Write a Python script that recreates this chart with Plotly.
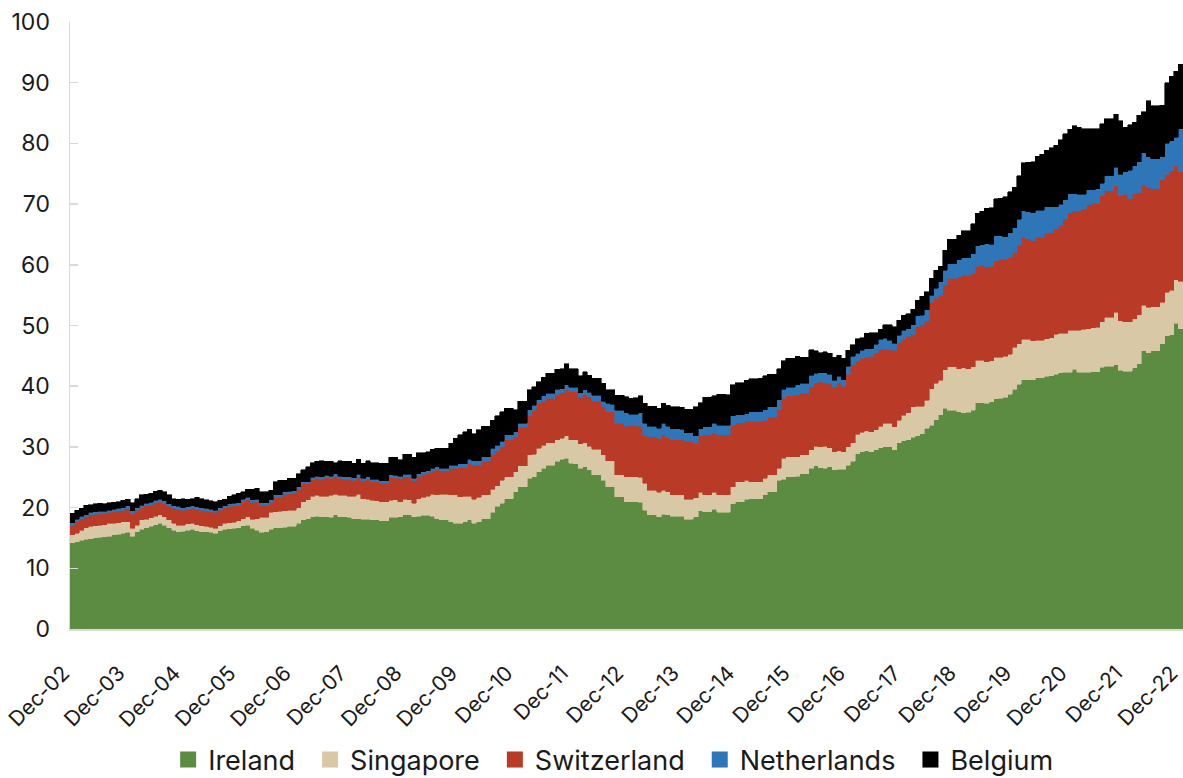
import plotly.graph_objects as go
import pandas as pd

# Monthly categories Dec-02 .. Dec-22
months = pd.date_range("2002-12-01", "2022-12-01", freq="MS").strftime("%b-%y").tolist()
tick_labels = ["Dec-%02d" % y for y in range(2, 23)]
y_ticks = [0, 10, 20, 30, 40, 50, 60, 70, 80, 90, 100]

ireland = [
    14.2, 14.4, 14.6, 14.8, 14.9, 15.0, 15.1, 15.2, 15.3, 15.5, 15.6, 15.8, 15.9,
    15.3, 16.0, 16.4, 16.7, 16.9, 17.2, 17.4, 17.1, 16.7, 16.3, 16.0, 16.1,
    16.3, 16.4, 16.2, 16.0, 16.0, 15.9, 15.8, 16.2, 16.4, 16.5, 16.6, 16.7,
    17.0, 17.1, 16.6, 16.3, 15.9, 16.0, 16.4, 16.7, 16.7, 16.8, 16.9, 16.9,
    17.4, 18.0, 18.2, 18.5, 18.6, 18.5, 18.5, 18.4, 18.8, 18.5, 18.5, 18.4,
    18.2, 18.2, 18.1, 18.1, 18.0, 18.0, 17.8, 17.8, 18.4, 18.4, 18.5, 18.8,
    18.8, 18.5, 18.6, 18.7, 18.7, 18.6, 18.2, 18.0, 18.0, 17.7, 17.4, 17.4,
    17.7, 18.0, 17.4, 17.7, 18.2, 18.2, 19.2, 20.2, 20.7, 21.5, 21.5, 22.6,
    23.4, 23.4, 24.8, 25.1, 25.9, 26.5, 27.0, 27.0, 27.6, 28.0, 28.1, 27.3,
    27.2, 26.5, 26.7, 26.2, 25.4, 25.4, 24.5, 23.4, 23.4, 21.8, 21.8, 21.0,
    21.0, 21.0, 20.9, 19.6, 18.8, 18.8, 18.5, 18.9, 18.8, 18.6, 18.6, 18.6,
    18.1, 18.1, 18.5, 19.5, 19.3, 19.3, 19.7, 19.2, 19.2, 19.2, 20.6, 21.0,
    21.0, 21.4, 21.5, 21.5, 21.5, 22.1, 22.6, 22.6, 24.5, 24.7, 25.1, 25.1,
    25.2, 25.6, 25.6, 26.5, 26.9, 26.6, 26.5, 26.7, 26.2, 26.3, 26.3, 27.0,
    27.6, 28.9, 29.2, 29.4, 29.2, 29.5, 29.9, 30.0, 30.0, 29.5, 30.7, 31.0,
    31.2, 31.6, 31.8, 32.2, 33.1, 33.6, 34.5, 35.3, 36.4, 36.0, 36.0, 35.8,
    35.6, 35.7, 36.0, 37.3, 37.3, 37.2, 37.4, 37.9, 38.0, 38.2, 38.7, 39.5,
    40.3, 41.1, 41.1, 41.1, 41.4, 41.4, 41.6, 41.7, 42.0, 42.2, 42.3, 42.3,
    42.8, 42.3, 42.3, 42.3, 42.4, 42.4, 43.1, 43.3, 43.3, 43.5, 42.6, 42.5,
    42.5, 43.0, 43.7, 45.8, 45.5, 45.8, 45.8, 47.0, 48.3, 48.5, 50.4, 49.5,
]

singapore = [
    1.3, 1.4, 1.7, 1.9, 2.0, 2.0, 2.0, 2.0, 2.1, 1.9, 1.9, 1.9, 1.8,
    1.3, 1.1, 1.6, 1.4, 1.4, 1.4, 1.4, 1.4, 1.3, 1.1, 1.1, 1.0,
    1.0, 1.0, 1.0, 1.0, 0.9, 0.9, 0.8, 0.8, 1.0, 1.0, 1.0, 1.1,
    1.2, 1.4, 1.5, 1.9, 2.5, 2.4, 2.8, 2.6, 2.7, 2.7, 2.7, 2.7,
    2.6, 3.0, 3.1, 3.4, 3.4, 3.4, 3.4, 3.6, 3.4, 3.5, 3.5, 3.5,
    3.7, 4.0, 3.4, 3.3, 3.2, 3.1, 3.2, 3.2, 2.8, 2.9, 2.5, 2.6,
    2.5, 2.2, 2.9, 3.0, 3.2, 3.6, 3.9, 4.2, 4.2, 4.4, 4.7, 4.4,
    4.2, 3.9, 4.0, 4.0, 3.9, 3.9, 3.8, 3.4, 3.8, 3.6, 3.6, 3.3,
    3.5, 3.5, 3.9, 3.7, 3.9, 3.8, 3.7, 3.7, 3.6, 3.4, 3.7, 3.9,
    4.0, 4.0, 4.0, 3.9, 4.2, 4.2, 4.2, 4.3, 4.3, 3.6, 3.6, 4.1,
    4.1, 4.1, 4.1, 4.4, 4.1, 4.1, 4.0, 4.0, 3.8, 3.5, 3.5, 3.5,
    3.3, 3.3, 3.1, 3.0, 2.8, 2.8, 2.8, 2.9, 2.9, 2.9, 2.8, 3.3,
    3.3, 3.1, 2.8, 2.8, 2.8, 2.7, 2.8, 2.8, 2.0, 3.4, 3.3, 3.3,
    3.2, 3.1, 3.1, 3.0, 3.2, 3.4, 3.6, 3.2, 3.0, 3.1, 2.9, 3.0,
    3.1, 3.2, 3.2, 3.3, 3.3, 3.3, 3.5, 3.9, 3.9, 3.8, 3.7, 4.2,
    4.4, 5.0, 4.9, 4.5, 4.6, 6.0, 6.0, 5.7, 6.3, 7.2, 7.2, 7.1,
    7.4, 7.2, 7.2, 7.0, 7.0, 6.8, 6.8, 6.9, 6.8, 6.7, 6.6, 6.9,
    6.7, 6.6, 6.6, 6.4, 6.2, 6.2, 6.2, 6.3, 6.6, 6.5, 6.4, 6.9,
    6.4, 6.9, 7.1, 7.2, 7.2, 7.3, 7.5, 8.1, 8.1, 8.7, 8.2, 8.1,
    8.1, 8.1, 8.1, 7.5, 7.5, 7.3, 7.3, 6.8, 7.2, 7.3, 7.1, 7.8,
]

switzerland = [
    1.6, 1.9, 1.9, 1.8, 1.9, 1.9, 1.9, 1.9, 1.8, 1.9, 2.0, 1.9, 2.2,
    2.4, 2.5, 2.0, 2.2, 2.2, 2.2, 2.2, 2.2, 2.2, 2.5, 2.6, 2.5,
    2.4, 2.5, 2.5, 2.6, 2.6, 2.5, 2.6, 2.6, 2.6, 2.7, 2.7, 2.6,
    2.8, 2.8, 2.8, 2.8, 2.0, 2.0, 1.7, 2.4, 2.3, 2.7, 2.7, 2.8,
    3.0, 2.9, 2.6, 2.7, 2.8, 2.8, 3.0, 2.8, 3.0, 2.8, 2.7, 2.8,
    2.6, 2.9, 2.9, 3.3, 3.1, 3.2, 3.0, 3.0, 3.8, 3.6, 3.8, 3.7,
    3.8, 3.7, 3.7, 3.8, 3.8, 3.9, 4.2, 3.9, 3.9, 4.4, 4.4, 4.8,
    4.7, 5.3, 5.6, 5.3, 5.5, 5.5, 5.8, 5.8, 5.5, 6.1, 6.1, 5.8,
    6.3, 6.3, 6.4, 7.2, 7.3, 7.2, 7.3, 7.3, 7.5, 7.5, 7.6, 7.9,
    7.9, 7.7, 8.0, 8.2, 7.9, 7.9, 7.9, 8.1, 8.1, 8.5, 8.5, 8.3,
    8.5, 8.5, 8.4, 7.8, 8.8, 8.8, 8.9, 9.1, 8.9, 9.1, 9.1, 9.1,
    9.5, 9.5, 9.0, 9.3, 9.9, 9.9, 9.8, 9.9, 9.9, 9.9, 10.2, 9.7,
    9.7, 9.8, 9.9, 9.9, 9.9, 9.6, 9.5, 9.5, 9.6, 9.9, 10.0, 10.0,
    10.2, 10.1, 10.1, 10.4, 10.5, 10.7, 10.5, 10.6, 10.7, 11.2, 10.8, 12.0,
    12.8, 12.0, 12.2, 12.1, 12.4, 12.6, 12.8, 12.2, 12.2, 12.6, 12.8, 12.5,
    12.6, 12.0, 13.1, 13.4, 13.1, 14.2, 14.0, 14.0, 14.0, 14.6, 14.6, 15.1,
    15.3, 15.4, 15.4, 15.5, 15.7, 15.7, 15.6, 15.9, 16.1, 16.0, 15.9, 15.7,
    16.2, 16.9, 16.6, 16.5, 16.9, 16.9, 17.4, 17.3, 17.3, 17.8, 18.9, 19.4,
    19.7, 19.7, 19.8, 20.4, 20.5, 20.4, 20.8, 20.8, 20.8, 20.8, 20.6, 21.0,
    20.3, 20.6, 20.1, 19.8, 19.8, 19.4, 19.4, 20.2, 19.4, 19.7, 18.8, 18.0,
]

netherlands = [
    0.4, 0.4, 0.4, 0.3, 0.4, 0.4, 0.4, 0.3, 0.4, 0.4, 0.4, 0.4, 0.4,
    0.5, 0.4, 0.4, 0.4, 0.4, 0.4, 0.4, 0.4, 0.4, 0.4, 0.5, 0.4,
    0.4, 0.4, 0.4, 0.4, 0.4, 0.4, 0.4, 0.4, 0.3, 0.4, 0.4, 0.4,
    0.4, 0.4, 0.4, 0.4, 0.4, 0.4, 0.4, 0.4, 0.4, 0.4, 0.4, 0.4,
    0.4, 0.4, 0.4, 0.4, 0.4, 0.4, 0.4, 0.4, 0.4, 0.4, 0.4, 0.4,
    0.4, 0.4, 0.4, 0.4, 0.4, 0.4, 0.4, 0.4, 0.4, 0.4, 0.4, 0.4,
    0.4, 0.4, 0.4, 0.4, 0.4, 0.4, 0.4, 0.4, 0.4, 0.5, 0.5, 0.6,
    0.6, 0.8, 0.7, 0.7, 0.8, 0.8, 1.0, 0.9, 0.9, 0.8, 0.8, 0.8,
    0.7, 0.7, 1.0, 0.9, 0.7, 0.9, 0.8, 0.8, 0.8, 0.7, 0.8, 0.7,
    0.7, 0.7, 0.7, 0.7, 1.0, 1.0, 0.9, 1.4, 1.2, 2.1, 2.1, 2.2,
    1.8, 1.8, 2.2, 2.1, 1.7, 1.7, 1.7, 1.9, 1.9, 1.8, 1.8, 1.7,
    1.4, 1.4, 1.2, 1.2, 1.3, 1.3, 1.6, 1.6, 1.6, 1.6, 1.5, 1.3,
    1.3, 1.2, 1.6, 1.6, 1.6, 1.7, 1.7, 1.7, 1.7, 1.5, 1.4, 1.4,
    1.6, 1.7, 1.7, 1.9, 1.5, 1.5, 1.6, 1.5, 1.1, 1.0, 1.1, 1.3,
    1.4, 1.3, 1.3, 1.4, 1.3, 1.5, 1.5, 1.8, 1.5, 1.2, 1.2, 1.5,
    1.3, 1.5, 1.8, 1.6, 1.8, 1.2, 1.6, 2.2, 2.4, 2.4, 2.4, 2.8,
    2.9, 2.9, 3.2, 3.3, 3.3, 3.8, 3.6, 4.1, 3.9, 3.7, 4.1, 4.0,
    4.3, 4.3, 4.4, 4.6, 4.5, 4.5, 4.4, 4.3, 3.7, 3.5, 3.1, 3.1,
    2.8, 2.7, 2.4, 2.5, 2.3, 2.4, 2.0, 2.5, 2.5, 3.1, 3.5, 3.7,
    4.7, 4.6, 5.1, 5.4, 5.0, 5.0, 5.0, 3.8, 5.1, 4.9, 4.7, 7.1,
]

belgium = [
    1.6, 1.5, 1.3, 1.6, 1.3, 1.3, 1.3, 1.2, 1.2, 1.2, 1.1, 1.2, 1.1,
    1.3, 1.5, 1.7, 1.5, 1.5, 1.5, 1.5, 1.5, 1.5, 1.2, 1.2, 1.5,
    1.3, 1.2, 1.6, 1.5, 1.4, 1.4, 1.4, 1.2, 1.1, 1.3, 1.4, 1.6,
    1.2, 1.3, 1.7, 1.8, 1.8, 1.8, 1.6, 2.2, 2.4, 1.9, 2.1, 2.0,
    2.2, 1.9, 2.4, 2.4, 2.4, 2.6, 2.3, 2.4, 1.8, 2.5, 2.5, 2.5,
    2.4, 2.5, 2.5, 2.6, 2.7, 2.7, 2.9, 2.9, 2.9, 3.0, 2.7, 3.3,
    3.3, 3.5, 3.4, 3.1, 3.1, 3.1, 3.1, 3.3, 3.3, 3.6, 4.4, 4.8,
    5.3, 4.9, 4.5, 5.1, 5.0, 5.0, 4.6, 4.8, 4.9, 4.4, 4.4, 3.6,
    3.6, 3.6, 3.3, 3.0, 2.9, 3.1, 3.3, 3.3, 3.3, 3.3, 3.5, 3.1,
    3.1, 2.8, 3.0, 2.8, 2.8, 2.8, 3.0, 2.2, 2.4, 2.5, 2.5, 2.7,
    2.6, 2.7, 2.8, 3.3, 3.3, 3.3, 3.3, 3.3, 3.5, 3.6, 3.6, 3.6,
    3.9, 3.9, 4.8, 4.3, 4.9, 4.9, 4.5, 5.1, 5.1, 5.0, 5.1, 5.3,
    5.3, 5.5, 5.4, 5.4, 5.5, 5.6, 5.4, 5.4, 5.1, 4.7, 4.8, 4.8,
    4.7, 4.3, 4.3, 4.2, 3.7, 3.3, 3.5, 3.4, 3.8, 3.5, 3.5, 2.6,
    1.9, 2.4, 2.1, 2.5, 2.6, 1.9, 1.7, 2.2, 2.5, 2.7, 2.5, 2.5,
    2.4, 2.6, 2.6, 3.1, 3.0, 2.8, 3.0, 2.6, 3.3, 4.0, 4.0, 4.1,
    4.4, 4.4, 5.0, 5.4, 5.5, 5.8, 6.0, 6.1, 6.2, 6.6, 6.7, 6.7,
    7.2, 7.9, 8.2, 8.4, 8.9, 9.2, 9.3, 9.7, 10.1, 10.6, 10.9, 10.6,
    11.2, 11.1, 10.8, 10.0, 10.0, 9.9, 9.8, 9.4, 9.4, 8.7, 8.8, 7.4,
    7.5, 7.2, 7.6, 6.7, 9.2, 8.7, 8.7, 8.5, 10.0, 10.7, 10.9, 10.6,
]

series = [
    ("Ireland", ireland, "#5b8c42"),
    ("Singapore", singapore, "#d8c8a6"),
    ("Switzerland", switzerland, "#b93a26"),
    ("Netherlands", netherlands, "#2f76b8"),
    ("Belgium", belgium, "#000000"),
]

FONT = "Inter, 'Open Sans', Arial, sans-serif"
PAD = "\u00a0\u200a"

fig = go.Figure()
for name, vals, col in series:
    fig.add_bar(
        x=months, y=vals, name=name,
        marker=dict(color=col, line=dict(color=col, width=0.6)),
        showlegend=False, hoverinfo="skip",
    )
for k, (name, vals, col) in enumerate(series):
    label = name + (PAD if k < len(series) - 1 else "")
    fig.add_scatter(
        x=[None], y=[None], mode="markers", name=label,
        marker=dict(symbol="square", size=16, color=col),
        showlegend=True, hoverinfo="skip",
    )

fig.update_layout(
    width=1183, height=778,
    barmode="stack", bargap=0,
    paper_bgcolor="white", plot_bgcolor="white",
    margin=dict(l=70, r=0, t=22, b=149, autoexpand=False),
    font=dict(family=FONT, color="#1a1a1a", size=22),
    hovermode=False,
    legend=dict(
        orientation="h", x=0.488, xanchor="center", y=-0.2158, yanchor="middle",
        font=dict(size=27), traceorder="normal", itemsizing="trace",
    ),
    xaxis=dict(
        type="category", categoryorder="array", categoryarray=months,
        tickmode="array", tickvals=tick_labels, ticktext=tick_labels,
        tickangle=-45, showline=True, linecolor="#d9d9d9", linewidth=1.5,
        ticks="", showgrid=False, zeroline=False, tickfont=dict(size=21),
        ticklabelstandoff=22, ticklabelshift=-9, automargin=False,
    ),
    yaxis=dict(
        range=[0, 100], tickmode="array", tickvals=y_ticks,
        ticks="inside", ticklen=8, tickcolor="#d9d9d9", tickwidth=1.5,
        showline=True, linecolor="#d9d9d9", linewidth=1.5,
        showgrid=False, zeroline=False, tickfont=dict(size=23),
        ticklabelstandoff=14, automargin=False,
    ),
)

fig.write_html(
    "out.html",
    config={"displayModeBar": False, "staticPlot": True},
    post_script="document.body.style.margin='0';document.body.style.overflow='hidden';",
)
